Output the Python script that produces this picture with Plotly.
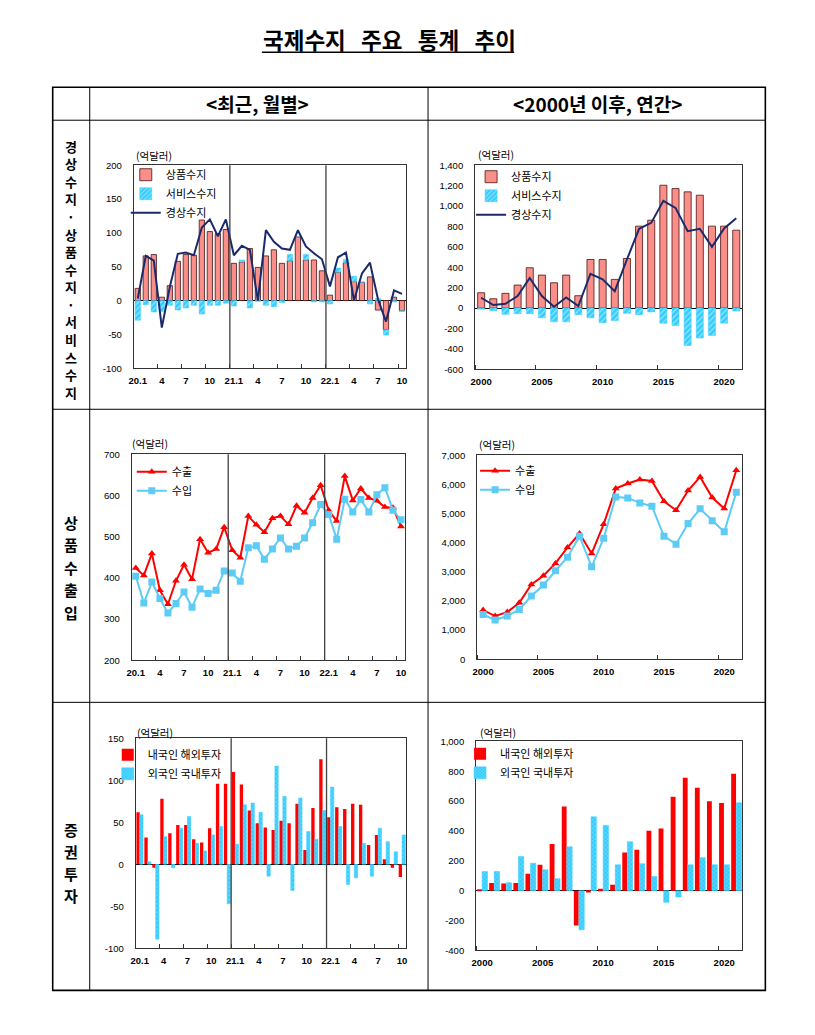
import plotly.graph_objects as go

# figure sits inside the page body (8px margin); the photographed page maps page
# pixels to picture pixels as out = s * p + c, so layout positions are mapped back.
PAGE_W, PAGE_H, BODY = 815, 1035, 8
W, H = PAGE_W - 2 * BODY, PAGE_H - 2 * BODY
SX, CX = 0.9916, 5.4
SY, CY = 0.989, 5.9

# ---------------- data ----------------
month_tick_labels = ["20.1", "4", "7", "10", "21.1", "4", "7", "10", "22.1", "4", "7", "10"]
year_tick_labels = ["2000", "2005", "2010", "2015", "2020"]
years = list(range(2000, 2022))
n_months = 34
month_index = list(range(n_months))

# 경상수지 / 상품수지 / 서비스수지 (monthly, 억달러)
goods_monthly = [18, 66, 68, 5, 22, 58, 68, 67, 119, 102, 99, 105,
                 55, 57, 77, 49, 66, 75, 55, 59, 94, 60, 60, 44,
                 8, 42, 56, 28, 27, 35, -14, -43, 5, -15]
services_monthly = [-29, -6, -17, -16, -7, -14, -11, -7, -20, -7, -7, -4,
                    -8, 3, -11, -1, -7, -9, -3, 9, 0, 8, -2, -2,
                    -5, 6, 5, 8, 0, -5, 3, -8, -2, -1]
current_monthly = [3, 66, 59, -40, 20, 69, 71, 67, 108, 120, 95, 120,
                   67, 81, 75, 0, 104, 87, 77, 75, 104, 80, 70, 61,
                   21, 64, 71, 0, 40, 56, 2, -31, 15, 10]

# annual
goods_annual = [150, 91, 144, 225, 395, 323, 248, 323, 121, 476, 476, 281,
                486, 803, 861, 1204, 1171, 1139, 1106, 803, 803, 763]
services_annual = [-12, -27, -62, -55, -55, -95, -135, -135, -66, -96, -143, -122,
                   -52, -65, -38, -149, -172, -367, -294, -268, -148, -30]
current_annual = [101, 29, 42, 118, 294, 118, 13, 104, 20, 336, 281, 166,
                  476, 777, 835, 1051, 982, 754, 777, 600, 780, 881]

# 상품수출입
exports_monthly = [424, 406, 459, 370, 336, 393, 432, 397, 494, 461, 470, 523,
                   467, 449, 550, 529, 511, 545, 550, 530, 575, 558, 594, 625,
                   564, 538, 647, 588, 617, 594, 587, 572, 570, 525]
imports_monthly = [404, 339, 390, 350, 315, 338, 366, 329, 373, 362, 370, 417,
                   412, 392, 473, 478, 445, 470, 497, 470, 477, 497, 534, 578,
                   554, 494, 591, 560, 590, 560, 602, 619, 564, 541]
exports_annual = [1690, 1485, 1620, 1940, 2570, 2866, 3290, 3840, 4316, 3630, 4636, 5858,
                  6030, 6166, 6121, 5424, 5116, 5790, 6258, 5550, 5173, 6486]
imports_annual = [1541, 1347, 1485, 1713, 2170, 2547, 3038, 3506, 4225, 3175, 4157, 5573,
                  5538, 5367, 5253, 4225, 3951, 4659, 5162, 4750, 4374, 5733]

# 증권투자
resident_abroad_monthly = [62, 32, -4, 78, 37, 47, 47, 30, 26, 43, 96, 96,
                           110, 95, 64, 49, 44, 41, 52, 49, 72, 17, 67, 125,
                           56, 68, 66, 72, 71, 23, 35, 6, -4, -15]
foreign_domestic_monthly = [59, 3, -89, 33, -4, 43, 57, 25, 16, 35, 45, -47,
                            24, 71, 73, 62, -14, 117, 81, -31, 79, 39, 30, 64,
                            92, 45, -24, -16, 25, -14, 43, 27, 15, 35]
resident_abroad_annual = [8, 52, 48, 52, 113, 173, 313, 564, -233, -12, 12, 40,
                          256, 274, 401, 417, 629, 756, 690, 598, 587, 783]
foreign_domestic_annual = [128, 128, 53, 229, 184, 140, 80, 294, -262, 495, 437, 173,
                           328, 181, 94, -78, -42, 173, 220, 173, 173, 588]

y_ticks_1 = [-100, -50, 0, 50, 100, 150, 200]
y_ticks_2 = [-600, -400, -200, 0, 200, 400, 600, 800, 1000, 1200, 1400]
y_ticks_3 = [200, 300, 400, 500, 600, 700]
y_ticks_4 = [0, 1000, 2000, 3000, 4000, 5000, 6000, 7000]
y_ticks_5 = [-100, -50, 0, 50, 100, 150]
y_ticks_6 = [-400, -200, 0, 200, 400, 600, 800, 1000]

title_words = ["국제수지", "주요", "통계", "추이"]
header_left = "<최근, 월별>"
header_right = "<2000년 이후, 연간>"
row_label_1 = "경상수지·상품수지·서비스수지"
row_label_2 = "상품수출입"
row_label_3 = "증권투자"
unit_label = "(억달러)"

# ---------------- styles ----------------
KR = "Noto Sans CJK KR"
NUM = "Liberation Sans, Arial, sans-serif"
PINK = "#FA8E88"
PINK_LINE = "#4A1414"
SKY = "#33CCFF"
NAVY = "#1B2A6B"
RED = "#FF0000"
IMP = "#5CCBF5"
FRAME = "#333333"


def fx(p):
    return ((p - CX) / SX - BODY) / W


def fy(p):
    return 1 - ((p - CY) / SY - BODY) / H


def esc(t):
    return t.replace("<", "&lt;").replace(">", "&gt;")


panels = {
    1: ((134, 406), (165, 368)),
    2: ((475, 742), (165, 369)),
    3: ((132, 405), (454, 660)),
    4: ((477, 742), (455, 659)),
    5: ((136, 406), (738, 948)),
    6: ((476, 742), (741, 950)),
}


def ax(k):
    return ("x" if k == 1 else f"x{k}"), ("y" if k == 1 else f"y{k}")


fig = go.Figure()

hatch = dict(shape="/", fgcolor="white", bgcolor=SKY, fillmode="overlay", size=4, solidity=0.3)
dots = dict(shape="x", fgcolor="white", bgcolor=SKY, fillmode="overlay", size=3, solidity=0.25)

# ---- panel 1
x1, y1 = ax(1)
serv_base_m = [max(g, 0) if s >= 0 else min(g, 0) for g, s in zip(goods_monthly, services_monthly)]
fig.add_trace(go.Bar(x=month_index, y=goods_monthly, name="상품수지", width=0.66, offset=-0.33,
                     marker=dict(color=PINK, line=dict(color=PINK_LINE, width=0.8)),
                     xaxis=x1, yaxis=y1, legend="legend"))
fig.add_trace(go.Bar(x=month_index, y=services_monthly, base=serv_base_m, name="서비스수지",
                     width=0.66, offset=-0.33,
                     marker=dict(color=SKY, pattern=hatch, line=dict(color=SKY, width=0.5)),
                     xaxis=x1, yaxis=y1, legend="legend"))
fig.add_trace(go.Scatter(x=month_index, y=current_monthly, name="경상수지", mode="lines",
                         line=dict(color=NAVY, width=2), xaxis=x1, yaxis=y1, legend="legend"))

# ---- panel 2
x2, y2 = ax(2)
fig.add_trace(go.Bar(x=years, y=goods_annual, name="상품수지", width=0.58, offset=-0.29,
                     marker=dict(color=PINK, line=dict(color=PINK_LINE, width=0.8)),
                     xaxis=x2, yaxis=y2, legend="legend2"))
fig.add_trace(go.Bar(x=years, y=services_annual, name="서비스수지", width=0.58, offset=-0.29,
                     marker=dict(color=SKY, pattern=hatch, line=dict(color=SKY, width=0.5)),
                     xaxis=x2, yaxis=y2, legend="legend2"))
fig.add_trace(go.Scatter(x=years, y=current_annual, name="경상수지", mode="lines",
                         line=dict(color=NAVY, width=2), xaxis=x2, yaxis=y2, legend="legend2"))

# ---- panel 3
x3, y3 = ax(3)
fig.add_trace(go.Scatter(x=month_index, y=exports_monthly, name="수출", mode="lines+markers",
                         line=dict(color=RED, width=2),
                         marker=dict(symbol="triangle-up", size=7, color=RED),
                         xaxis=x3, yaxis=y3, legend="legend3"))
fig.add_trace(go.Scatter(x=month_index, y=imports_monthly, name="수입", mode="lines+markers",
                         line=dict(color=IMP, width=2),
                         marker=dict(symbol="square", size=7, color=IMP),
                         xaxis=x3, yaxis=y3, legend="legend3"))

# ---- panel 4
x4, y4 = ax(4)
fig.add_trace(go.Scatter(x=years, y=exports_annual, name="수출", mode="lines+markers",
                         line=dict(color=RED, width=2),
                         marker=dict(symbol="triangle-up", size=7, color=RED),
                         xaxis=x4, yaxis=y4, legend="legend4"))
fig.add_trace(go.Scatter(x=years, y=imports_annual, name="수입", mode="lines+markers",
                         line=dict(color=IMP, width=2),
                         marker=dict(symbol="square", size=7, color=IMP),
                         xaxis=x4, yaxis=y4, legend="legend4"))

# ---- panel 5
x5, y5 = ax(5)
fig.add_trace(go.Bar(x=month_index, y=resident_abroad_monthly, name="내국인 해외투자",
                     width=0.42, offset=-0.42, marker=dict(color=RED, line=dict(width=0)),
                     xaxis=x5, yaxis=y5, legend="legend5"))
fig.add_trace(go.Bar(x=month_index, y=foreign_domestic_monthly, name="외국인 국내투자",
                     width=0.42, offset=0.0,
                     marker=dict(color=SKY, pattern=dots, line=dict(color=SKY, width=0.5)),
                     xaxis=x5, yaxis=y5, legend="legend5"))

# ---- panel 6
x6, y6 = ax(6)
fig.add_trace(go.Bar(x=years, y=resident_abroad_annual, name="내국인 해외투자",
                     width=0.4, offset=-0.42, marker=dict(color=RED, line=dict(width=0)),
                     xaxis=x6, yaxis=y6, legend="legend6"))
fig.add_trace(go.Bar(x=years, y=foreign_domestic_annual, name="외국인 국내투자",
                     width=0.44, offset=0.0,
                     marker=dict(color=SKY, pattern=dots, line=dict(color=SKY, width=0.5)),
                     xaxis=x6, yaxis=y6, legend="legend6"))

# ---------------- axes ----------------
y_ticks = {1: y_ticks_1, 2: y_ticks_2, 3: y_ticks_3, 4: y_ticks_4, 5: y_ticks_5, 6: y_ticks_6}
bar_panels = {1, 2, 5, 6}
layout = {}
for k, ((px0, px1), (py0, py1)) in panels.items():
    xn, yn = ax(k)
    xkey = "xaxis" if k == 1 else f"xaxis{k}"
    ykey = "yaxis" if k == 1 else f"yaxis{k}"
    monthly = k % 2 == 1
    if monthly:
        xr = [-0.5, n_months - 0.5]
        tv = list(range(0, n_months, 3))
        tt = month_tick_labels
        minor_tv = [v - 0.5 for v in range(0, n_months, 3)]
    else:
        xr = [years[0] - 0.5, years[-1] + 0.5]
        tv = [int(t) for t in year_tick_labels]
        tt = year_tick_labels
        minor_tv = [v - 0.5 for v in tv]
    layout[xkey] = dict(
        domain=[fx(px0), fx(px1)], anchor=yn, range=xr,
        showline=True, mirror=True, linecolor=FRAME, linewidth=1,
        showgrid=False, zeroline=False,
        tickmode="array", tickvals=tv, ticktext=tt, ticks="",
        ticklabelstandoff=3,
        tickfont=dict(family=NUM, size=9.5, color="black", weight="bold"),
        minor=dict(tickmode="array", tickvals=minor_tv, ticks="inside", ticklen=4,
                   tickcolor=FRAME, tickwidth=1),
        fixedrange=True,
    )
    yt = y_ticks[k]
    layout[ykey] = dict(
        domain=[fy(py1), fy(py0)], anchor=xn, range=[yt[0], yt[-1]],
        showline=True, mirror=True, linecolor=FRAME, linewidth=1,
        showgrid=False, zeroline=(k in bar_panels), zerolinecolor="black", zerolinewidth=1,
        tickmode="array", tickvals=yt, ticktext=[f"{v:,}" for v in yt], ticks="",
        ticklabelstandoff=9,
        tickfont=dict(family=NUM, size=9.5, color="black"),
        fixedrange=True,
    )

# ---------------- legends ----------------
legend_pos = {
    1: (126, 160), 2: (471, 162), 3: (132, 457), 4: (475, 456), 5: (108, 740), 6: (460, 739),
}
for k, (lx, ly) in legend_pos.items():
    key = "legend" if k == 1 else f"legend{k}"
    layout[key] = dict(x=fx(lx), y=fy(ly), xanchor="left", yanchor="top",
                       bgcolor="rgba(0,0,0,0)", borderwidth=0, tracegroupgap=0,
                       font=dict(family=KR, size=11, color="black"), itemwidth=30)

# ---------------- shapes (table + separators) ----------------
shapes = []
shapes.append(dict(type="rect", xref="paper", yref="paper", x0=fx(53), x1=fx(765), y0=fy(990), y1=fy(87),
                   line=dict(color="black", width=1.6)))
for yy in (120, 409, 702):
    shapes.append(dict(type="line", xref="paper", yref="paper", x0=fx(53), x1=fx(765), y0=fy(yy), y1=fy(yy),
                       line=dict(color="black", width=1)))
for xx in (90, 428):
    shapes.append(dict(type="line", xref="paper", yref="paper", x0=fx(xx), x1=fx(xx), y0=fy(990), y1=fy(87),
                       line=dict(color="black", width=1)))
# title underline
shapes.append(dict(type="line", xref="paper", yref="paper", x0=fx(262), x1=fx(514), y0=fy(52), y1=fy(52),
                   line=dict(color="black", width=1.5)))
# year separators in monthly charts
year_starts = [i * 3 for i, t in enumerate(month_tick_labels) if t.endswith(".1") and i > 0]
for k in (1, 3, 5):
    xn, yn = ax(k)
    for s in year_starts:
        shapes.append(dict(type="line", xref=xn, yref=f"{yn} domain", x0=s - 0.5, x1=s - 0.5, y0=0, y1=1,
                           line=dict(color="#404040", width=1.3)))

# ---------------- annotations ----------------
ann = []


def text_at(text, x, y, size, weight="normal", xanchor="center", yanchor="middle"):
    ann.append(dict(text=text, x=fx(x), y=fy(y), xref="paper", yref="paper", showarrow=False,
                    font=dict(family=KR, size=size, color="black", weight=weight),
                    xanchor=xanchor, yanchor=yanchor, borderpad=0))


text_at("&nbsp;&nbsp;&nbsp;".join(title_words), 389, 39, 22.5, weight="bold")
text_at(esc(header_left), 258, 103, 19, weight="bold")
text_at(esc(header_right), 597, 103, 19, weight="bold")

# row labels (characters stacked vertically)
for text, ya, yb, size in ((row_label_1, 146, 392, 13), (row_label_2, 522, 612, 15),
                           (row_label_3, 829, 895, 15)):
    n = len(text)
    for i, ch in enumerate(text):
        text_at(ch, 71, ya + (yb - ya) * i / (n - 1), size, weight="bold")

unit_pos = {1: (135, 155), 2: (477, 154), 3: (131, 443), 4: (478, 444), 5: (136, 732), 6: (479, 732)}
for k, (ux, uy) in unit_pos.items():
    text_at(unit_label, ux, uy, 10.5, xanchor="left")

fig.update_layout(
    width=W, height=H, autosize=False,
    margin=dict(l=0, r=0, t=0, b=0),
    paper_bgcolor="white", plot_bgcolor="white",
    barmode="overlay", showlegend=True,
    shapes=shapes, annotations=ann,
    font=dict(family=KR, color="black"),
    **layout,
)

fig.write_html("out.html")
